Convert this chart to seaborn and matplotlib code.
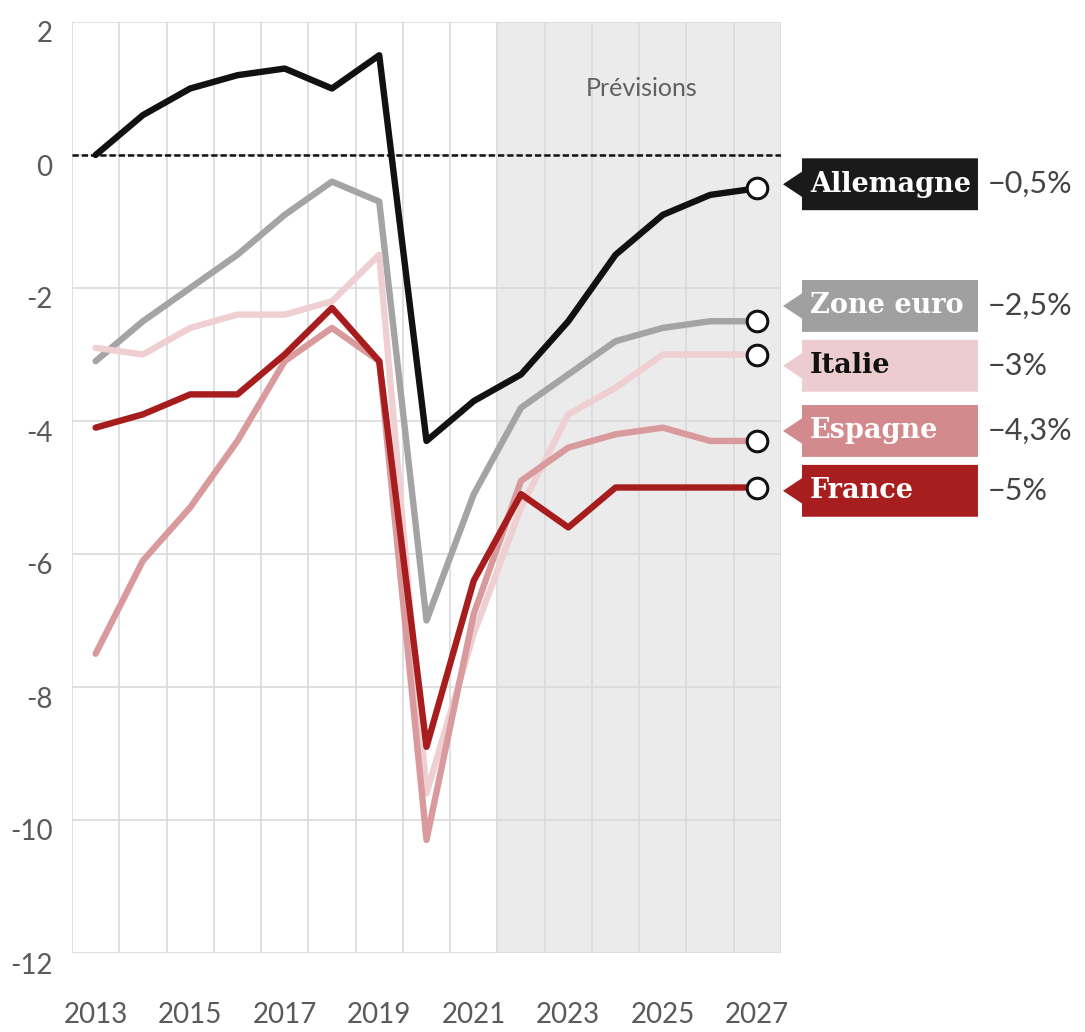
import numpy as np
import pandas as pd
import matplotlib
matplotlib.use("Agg")
import matplotlib.pyplot as plt
import seaborn as sns
from matplotlib.patches import Polygon
from matplotlib.transforms import blended_transform_factory, ScaledTranslation

# ---- data ----
years = list(range(2013, 2028))
allemagne = [0.0, 0.6, 1.0, 1.2, 1.3, 1.0, 1.5, -4.3, -3.7, -3.3, -2.5, -1.5, -0.9, -0.6, -0.5]
zone_euro = [-3.1, -2.5, -2.0, -1.5, -0.9, -0.4, -0.7, -7.0, -5.1, -3.8, -3.3, -2.8, -2.6, -2.5, -2.5]
italie = [-2.9, -3.0, -2.6, -2.4, -2.4, -2.2, -1.5, -9.6, -7.2, -5.3, -3.9, -3.5, -3.0, -3.0, -3.0]
espagne = [-7.5, -6.1, -5.3, -4.3, -3.1, -2.6, -3.1, -10.3, -6.9, -4.9, -4.4, -4.2, -4.1, -4.3, -4.3]
france = [-4.1, -3.9, -3.6, -3.6, -3.0, -2.3, -3.1, -8.9, -6.4, -5.1, -5.6, -5.0, -5.0, -5.0, -5.0]

names = ["Zone euro", "Italie", "Espagne", "France", "Allemagne"]
series = [zone_euro, italie, espagne, france, allemagne]
end_labels = ["−0,5%", "−2,5%", "−3%", "−4,3%", "−5%"]
label_order = ["Allemagne", "Zone euro", "Italie", "Espagne", "France"]
x_ticks = [2013, 2015, 2017, 2019, 2021, 2023, 2025, 2027]
y_ticks = [-12, -10, -8, -6, -4, -2, 0, 2]

line_colors = {"Allemagne": "#111111", "Zone euro": "#a4a4a4", "Italie": "#efcfd1",
               "Espagne": "#d99a9d", "France": "#a71c1c"}
box_colors = {"Allemagne": "#1a1a1a", "Zone euro": "#a0a0a0", "Italie": "#ecccce",
              "Espagne": "#d38a8d", "France": "#a81e1e"}
text_colors = {"Allemagne": "white", "Zone euro": "white", "Italie": "#111111",
               "Espagne": "white", "France": "white"}
label_y = {"Allemagne": -0.44, "Zone euro": -2.27, "Italie": -3.17, "Espagne": -4.15, "France": -5.05}

df = pd.DataFrame({
    "annee": np.tile(years, len(names)),
    "solde": np.concatenate(series),
    "pays": np.repeat(names, len(years)),
})
df_last = df[df["annee"] == years[-1]]

# ---- style ----
sns.set_theme(style="white")
plt.rcParams["font.family"] = ["Lato", "DejaVu Sans"]
plt.rcParams["axes.unicode_minus"] = False

fig = plt.figure(figsize=(10.85, 10.32), dpi=100)
ax = fig.add_axes([72 / 1085, 1 - 953 / 1032, 709 / 1085, 931 / 1032])

ax.axvspan(2021.5, 2027.5, color="#ebebeb", lw=0, zorder=0)
ax.axhline(0, color="#111111", lw=1.8, ls=(0, (2.5, 1.2)), zorder=1.5)

sns.lineplot(data=df, x="annee", y="solde", hue="pays", hue_order=names,
             palette=line_colors, linewidth=4.6, legend=False, ax=ax, zorder=3)
sns.scatterplot(data=df_last, x="annee", y="solde", s=220, color="white",
                edgecolor="#111111", linewidth=2.2, ax=ax, zorder=5, legend=False)

ax.set_xlim(2012.5, 2027.5)
ax.set_ylim(-12, 2)
ax.set_xticks(x_ticks)
ax.set_xticks(np.arange(2012.5, 2028, 1), minor=True)
ax.set_yticks(y_ticks)
ax.set_xticklabels([str(t) for t in x_ticks])
ax.set_yticklabels([str(t) for t in y_ticks])
ax.grid(False)
ax.grid(which="minor", axis="x", color="#dadada", lw=1.2, zorder=0.5)
ax.grid(which="major", axis="y", color="#dadada", lw=1.2, zorder=0.5)
ax.set_axisbelow(True)
for s in ax.spines.values():
    s.set_visible(False)
ax.tick_params(axis="both", which="both", length=0)
ax.tick_params(axis="x", pad=35, labelsize=20, labelcolor="#5a5a5a")
ax.tick_params(axis="y", pad=14, labelsize=20, labelcolor="#5a5a5a")
off = ScaledTranslation(0, -0.10, fig.dpi_scale_trans)
for lab in ax.get_yticklabels():
    lab.set_transform(lab.get_transform() + off)
ax.set_xlabel("")
ax.set_ylabel("")

ax.text(2024.55, 1.0, "Prévisions", ha="center", va="center", fontsize=18,
        color="#606060", zorder=6)

# ---- end labels ----
tr = blended_transform_factory(ax.transAxes, ax.transData)
x_tip, x_base, x_right = 1.0028, 1.0296, 1.2778
hb, ha_ = 0.39, 0.19
for name, val in zip(label_order, end_labels):
    yc = label_y[name]
    pts = [(x_tip, yc), (x_base, yc + ha_), (x_base, yc + hb), (x_right, yc + hb),
           (x_right, yc - hb), (x_base, yc - hb), (x_base, yc - ha_)]
    ax.add_patch(Polygon(pts, closed=True, transform=tr, facecolor=box_colors[name],
                         edgecolor="none", clip_on=False, zorder=6))
    ax.text(1.041, yc, name, transform=tr, ha="left", va="center", fontsize=19.5,
            fontweight="bold", family=["DejaVu Serif"], color=text_colors[name],
            clip_on=False, zorder=7)
    ax.text(1.292, yc, val, transform=tr, ha="left", va="center", fontsize=22,
            color="#444444", clip_on=False, zorder=7)

fig.savefig("out.png", dpi=100)
